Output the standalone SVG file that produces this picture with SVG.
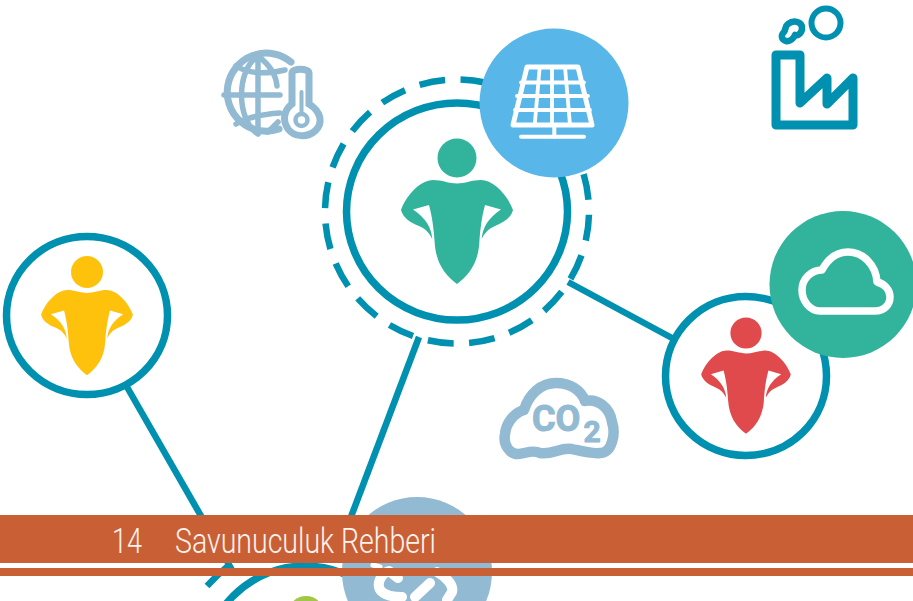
<svg xmlns="http://www.w3.org/2000/svg" width="913" height="601" viewBox="0 0 913 601">
<style>
.ring{fill:#fff;stroke:#0090b0;stroke-width:7.5}
.line{fill:none;stroke:#0090b0;stroke-width:6.500}
.dash{fill:none;stroke:#0090b0;stroke-width:6.500;stroke-dasharray:26 15.470;stroke-dashoffset:-3.300}
.pale{fill:none;stroke:#92bad2;stroke-linecap:round;stroke-linejoin:round}
.wht{fill:none;stroke:#fff;stroke-linecap:round;stroke-linejoin:round}
.band{fill:#c96035}
.lbl{font-family:"Roboto","Liberation Sans",sans-serif;font-weight:300;fill:#fdf3ee;font-size:35px}
</style>
<defs>
<g id="person">
<circle cx="0" cy="0" r="19.5"/>
<path d="M0 25.5C-8 25.5 -15 22 -24 22C-36 22 -50 36 -56 52C-54 60 -46 65 -38 68C-31 71 -27 76 -24.7 81C-25.5 70 -31 60 -44 51.5L-28 47C-24 62 -23 75 -22.3 85C-21 105 -12 117 0 126C12 117 21 105 22.3 85C23 75 24 62 28 47L44 51.5C31 60 25.5 70 24.7 81C27 76 31 71 38 68C46 65 54 60 56 52C50 36 36 22 24 22C15 22 8 25.5 0 25.5Z"/>
</g>
</defs>
<rect width="913" height="601" fill="#fff"/>
<g id="connectors">
<path class="line" d="M127 387L232 570"/>
<path class="line" d="M419 337L346 530"/>
<path class="line" d="M568 282L672 338"/>
</g>
<g id="node-bottom">
<path fill="none" stroke="#0090b0" stroke-width="6.500" d="M207 586Q216 576 228 566"/>
<circle class="ring" cx="305" cy="667" r="101"/>
<circle cx="306" cy="614" r="18" fill="#a3c644"/>
<circle cx="417" cy="572" r="75" fill="#92bad2"/>
<path class="wht" stroke-width="10" d="M398 578L389 571C380 574 376 585 381 591C386 596 394 597 402 597M415 597L430 583M437 572C446 577 454 585 452 592L447 600"/>
<path class="wht" stroke-width="5" d="M373 565L380 567"/>
</g>
<g id="node-main">
<circle class="dash" cx="457" cy="211.500" r="132"/>
<ellipse class="ring" cx="457" cy="211.500" rx="110.500" ry="108.500"/>
<use href="#person" x="457" y="158" fill="#32b39c"/>
</g>
<g id="node-solar">
<circle cx="554" cy="103" r="74.5" fill="#58b6e8"/>
<path class="wht" stroke-width="5" d="M527 67H578L592 125H513Z"/>
<path class="wht" stroke-width="3.800" d="M521 82.500H584M517 96H588M515 110H590M539.700 67L534.700 125M552 67V125M565 67L570 125"/>
<path class="wht" stroke-width="4" d="M554.300 125V137M521 136.700H584"/>
</g>
<g id="node-yellow">
<ellipse class="ring" cx="87" cy="315.500" rx="80.500" ry="79"/>
<use href="#person" transform="translate(87 272) scale(.82)" fill="#fec20c"/>
</g>
<g id="node-red">
<ellipse class="ring" cx="746" cy="376" rx="80.500" ry="79.500"/>
<use href="#person" transform="translate(746 333) scale(.8)" fill="#e04a4c"/>
</g>
<g id="node-cloud">
<circle cx="843" cy="284.500" r="73.500" fill="#32b39c"/>
<path class="wht" stroke-width="7.500" d="M822 270C829 257 838 252 848 252C863 252 876 265 877 282C885 284 890 290 890 297C890 305 884 311 875 311H820C810 311 802 301 802 290C802 279 811 270 822 270Z"/>
</g>
<g id="icon-globe">
<path class="pale" stroke-width="7" d="M291 62A39 39 0 1 0 279 129"/>
<path class="pale" stroke-width="5.500" d="M258 56C236 70 236 120 258 134M258 56C270 65 276 75 277 86M258 56V134M224 95H280M236 66C249 74 268 74 285 70M236 124C249 116 265 114 280 113M278 122L268 132"/>
<path d="M292 73C292 68 309 68 309 73V104C322 112 323 124 315 131C307 138 294 137 288 129C282 120 284 110 292 104Z" fill="#fff" stroke="#92bad2" stroke-width="7"/>
<circle cx="301.500" cy="120" r="6" fill="none" stroke="#92bad2" stroke-width="4.500"/>
<path class="pale" stroke-width="4" d="M301.500 92V113"/>
</g>
<g id="icon-factory">
<path fill="none" stroke="#0090b0" stroke-width="9" stroke-linejoin="round" d="M776 55H800V103L827 78V104L853 78V125H776Z"/>
<circle cx="826" cy="23" r="14.500" fill="none" stroke="#0090b0" stroke-width="6"/>
<path fill="none" stroke="#0090b0" stroke-width="6.500" stroke-linejoin="round" d="M784 32C786 29 785 26 788 24C793 20 802 21 802 28C802 34 797 36 795 35C794 38 790 42 786 41C782 40 780 36 784 32Z"/>
</g>
<g id="icon-co2">
<path class="pale" stroke-width="10.500" d="M518 454C509 454 503 444 505 434C506 423 514 413 524 410C529 394 541 383 556 383C570 383 581 390 585 401C598 398 610 408 612 422C616 434 612 453 600 453C592 454 585 452 572 449C560 447 553 455 540 453C532 449 525 454 518 454Z"/>
<text x="532" y="431" font-family="'Roboto',sans-serif" font-weight="700" font-size="36" stroke="#92bad2" stroke-width="1" fill="#92bad2">CO<tspan dx="3" dy="11" font-size="30">2</tspan></text>
</g>
<g id="footer">
<rect class="band" x="0" y="515" width="913" height="48"/>
<rect class="band" x="0" y="568" width="913" height="8"/>
<text class="lbl" x="112" y="553" textLength="30" lengthAdjust="spacingAndGlyphs">14</text>
<text class="lbl" x="175" y="553" textLength="261" lengthAdjust="spacingAndGlyphs">Savunuculuk Rehberi</text>
</g>
</svg>
